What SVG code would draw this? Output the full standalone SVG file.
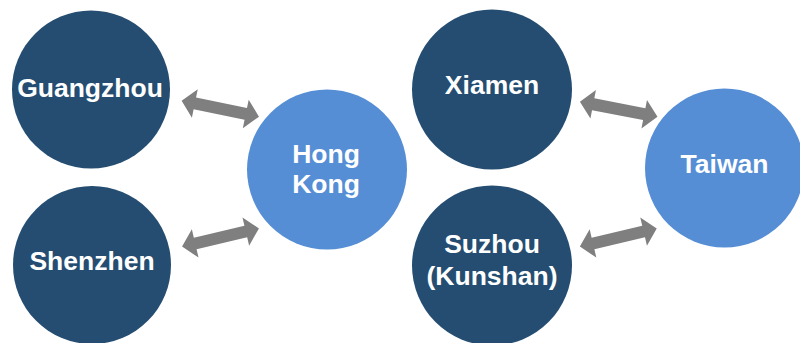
<svg xmlns="http://www.w3.org/2000/svg" width="800" height="343" viewBox="0 0 800 343">
<style>
.dark{fill:#244D71}
.light{fill:#558ED5}
.lbl{font-family:"Liberation Sans",Arial,sans-serif;font-weight:bold;font-size:26.5px;fill:#FFFFFF;text-anchor:middle}
.arr{fill:#7F7F7F}
</style>
<defs>
<polygon id="dbl" points="-39.5,0 -26,-14.5 -26,-6 26,-6 26,-14.5 39.5,0 26,14.5 26,6 -26,6 -26,14.5"/>
</defs>
<rect width="800" height="343" fill="#FFFFFF"/>
<g id="connectors" class="arr">
<use href="#dbl" transform="translate(220.3,108.7) rotate(11.7)"/>
<use href="#dbl" transform="translate(220.5,237.5) rotate(-13.3)"/>
<use href="#dbl" transform="translate(618.7,109.2) rotate(11)"/>
<use href="#dbl" transform="translate(618.3,237.5) rotate(-13.3)"/>
</g>
<g id="guangzhou"><circle class="dark" cx="91" cy="89.5" r="79"/><text class="lbl" x="90" y="96.5">Guangzhou</text></g>
<g id="shenzhen"><circle class="dark" cx="92" cy="265" r="79"/><text class="lbl" x="92" y="270">Shenzhen</text></g>
<g id="hongkong"><circle class="light" cx="327" cy="169.5" r="80"/><text class="lbl" x="326" y="163.3">Hong</text><text class="lbl" x="326" y="193.3">Kong</text></g>
<g id="xiamen"><circle class="dark" cx="492" cy="89.5" r="80"/><text class="lbl" x="492" y="94.3">Xiamen</text></g>
<g id="suzhou"><circle class="dark" cx="492" cy="265.5" r="80"/><text class="lbl" x="492" y="253.3">Suzhou</text><text class="lbl" x="492" y="285">(Kunshan)</text></g>
<g id="taiwan"><circle class="light" cx="724.5" cy="168" r="79.5"/><text class="lbl" x="724.5" y="173.3">Taiwan</text></g>
</svg>
